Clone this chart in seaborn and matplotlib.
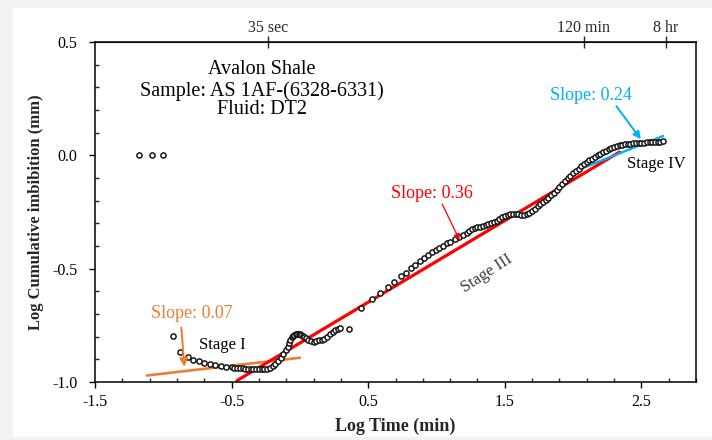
import numpy as np
import pandas as pd
import matplotlib
matplotlib.use("Agg")
import matplotlib.pyplot as plt
from matplotlib.patches import Rectangle
from matplotlib.ticker import MultipleLocator, FixedLocator
import seaborn as sns

# Measured imbibition record: log10 time (min) vs log10 cumulative imbibition (mm)
log_time = [
    -1.18, -1.08, -1.00, -0.93, -0.88, -0.82, -0.78, -0.74, -0.70, -0.66, -0.62, -0.58, -0.54, -0.50,
    -0.48, -0.46, -0.44, -0.42, -0.40, -0.38, -0.36, -0.34, -0.32, -0.30, -0.28, -0.26, -0.24,
    -0.22, -0.20, -0.18, -0.16, -0.14, -0.12, -0.10, -0.09, -0.08, -0.07, -0.06, -0.05, -0.04, -0.03,
    -0.02, -0.01, 0.00, 0.01, 0.02, 0.03, 0.045, 0.06, 0.08, 0.10, 0.12, 0.14, 0.16, 0.18, 0.20,
    0.22, 0.24, 0.26, 0.28, 0.295, 0.357,
    0.448, 0.529, 0.587, 0.643, 0.692, 0.741, 0.778, 0.815, 0.846, 0.878, 0.910, 0.941, 0.969,
    0.993, 1.022, 1.046, 1.076, 1.100, 1.132, 1.163, 1.193,
    1.22, 1.24, 1.26, 1.28, 1.30, 1.32, 1.34, 1.36, 1.38, 1.40, 1.42, 1.44, 1.46, 1.48, 1.50,
    1.52, 1.54, 1.56, 1.58, 1.60, 1.62, 1.64, 1.66, 1.68, 1.70, 1.72, 1.74, 1.76, 1.78, 1.80,
    1.82, 1.84, 1.86, 1.88, 1.90, 1.92, 1.94, 1.96, 1.98, 2.00, 2.02, 2.04, 2.06, 2.08, 2.10,
    2.12, 2.14, 2.16, 2.18, 2.20, 2.22, 2.24, 2.26, 2.28, 2.30, 2.32, 2.34, 2.36, 2.38, 2.40,
    2.42, 2.44, 2.46, 2.48, 2.50, 2.52, 2.54, 2.56, 2.58, 2.60, 2.62, 2.64, 2.66,
]
log_imbibition = [
    0.000, 0.000, 0.000, -0.796, -0.866, -0.890, -0.904, -0.909, -0.916, -0.921, -0.925, -0.928, -0.933, -0.935,
    -0.937, -0.938, -0.939, -0.940, -0.941, -0.942, -0.942, -0.942, -0.943, -0.943, -0.943, -0.942, -0.941,
    -0.938, -0.930, -0.921, -0.908, -0.895, -0.878, -0.857, -0.844, -0.830, -0.815, -0.803, -0.796, -0.791, -0.788,
    -0.787, -0.788, -0.790, -0.794, -0.798, -0.802, -0.807, -0.814, -0.821, -0.822, -0.819, -0.815, -0.814, -0.810, -0.803,
    -0.790, -0.778, -0.770, -0.765, -0.763, -0.766,
    -0.675, -0.634, -0.607, -0.580, -0.558, -0.532, -0.518, -0.498, -0.485, -0.466, -0.454, -0.440, -0.428,
    -0.418, -0.408, -0.399, -0.388, -0.381, -0.370, -0.360, -0.350,
    -0.341, -0.334, -0.327, -0.322, -0.318, -0.314, -0.311, -0.308, -0.304, -0.300, -0.295, -0.289, -0.281, -0.274, -0.268,
    -0.262, -0.258, -0.257, -0.258, -0.260, -0.262, -0.262, -0.260, -0.255, -0.247, -0.236, -0.224, -0.214, -0.205, -0.197,
    -0.188, -0.176, -0.164, -0.152, -0.139, -0.126, -0.114, -0.102, -0.090, -0.080, -0.069, -0.059, -0.049, -0.040, -0.031,
    -0.022, -0.014, -0.007, 0.000, 0.008, 0.015, 0.021, 0.027, 0.032, 0.037, 0.041, 0.044, 0.046, 0.048, 0.050,
    0.052, 0.053, 0.054, 0.055, 0.056, 0.056, 0.057, 0.057, 0.058, 0.059, 0.060, 0.061, 0.063,
]

# Straight-line fits of each imbibition stage (slope, intercept, x-range)
fit_labels = ["Slope: 0.07", "Slope: 0.36", "Slope: 0.24"]
fit_slopes = [0.07, 0.36, 0.24]
fit_intercepts = [-0.893, -0.828, -0.553]
fit_x_start = [-1.12, -0.46, 2.00]
fit_x_end = [0.00, 2.34, 2.66]
fit_colors = ["#ED7D31", "#FF0000", "#00B0F0"]
fit_widths = [1.9, 2.3, 1.7]

# Elapsed-time markers on the upper axis
time_labels = ["35 sec", "120 min", "8 hr"]
time_minutes = [35 / 60, 120, 480]

x_ticks = [-1.5, -0.5, 0.5, 1.5, 2.5]
y_ticks = [-1.0, -0.5, 0.0, 0.5]

sns.set_style("ticks")
plt.rcParams["font.family"] = ["Liberation Serif", "DejaVu Serif"]
plt.rcParams["axes.unicode_minus"] = False

fig = plt.figure(figsize=(7.12, 4.40), dpi=100, facecolor="#f2f2f2")
fig.patches.append(Rectangle((13 / 712, 3 / 440), 1 - 13 / 712, 429 / 440,
                             transform=fig.transFigure, facecolor="white",
                             edgecolor="none", zorder=-10))
ax = fig.add_axes([95 / 712, 58 / 440, 601 / 712, 340 / 440])
ax.set_facecolor("white")

# Fit lines
for s, b, x0, x1, c, w in zip(fit_slopes, fit_intercepts, fit_x_start, fit_x_end, fit_colors, fit_widths):
    fx = np.array([x0, x1])
    sns.lineplot(x=fx, y=s * fx + b, color=c, linewidth=w, ax=ax, zorder=2)

# Measured points
data = pd.DataFrame({"t": log_time, "i": log_imbibition})
sns.scatterplot(data=data, x="t", y="i", marker="o", s=14, facecolor="white",
                edgecolor="#111111", linewidth=1.05, ax=ax, zorder=3)

ax.set_xlim(-1.5, 2.9)
ax.set_ylim(-1.0, 0.5)
ax.xaxis.set_major_locator(FixedLocator(x_ticks))
ax.xaxis.set_minor_locator(MultipleLocator(0.2, offset=0.1))
ax.yaxis.set_major_locator(FixedLocator(y_ticks))
ax.yaxis.set_minor_locator(MultipleLocator(0.1))
ax.set_xticklabels([f"{v:.1f}" for v in x_ticks])
ax.set_yticklabels([f"{v:.1f}" for v in y_ticks])
ax.tick_params(axis="both", which="major", direction="out", length=4.5, width=1.0,
               labelsize=11.5, colors="black")
ax.tick_params(axis="both", which="minor", direction="in", length=3, width=1.0)
ax.tick_params(axis="y", which="major", pad=8)
ax.tick_params(axis="x", which="major", pad=4)
for sp in ax.spines.values():
    sp.set_visible(True)
    sp.set_linewidth(1.1)
    sp.set_color("black")

ax.set_xlabel("Log Time (min)", fontsize=13, fontweight="bold", labelpad=6)
ax.set_ylabel("Log Cumulative imbibition (mm)", fontsize=12, fontweight="bold", labelpad=6)

# Upper axis with elapsed-time markers
top = ax.secondary_xaxis("top")
top.set_xticks(list(np.log10(time_minutes)))
top.set_xticklabels(time_labels)
top.tick_params(direction="inout", length=8, width=1.0, labelsize=11.5, pad=0)
top.xaxis.set_minor_locator(FixedLocator([]))

# Sample description
for txt, yy in zip(["Avalon Shale", "Sample: AS 1AF-(6328-6331)", "Fluid: DT2"], [0.380, 0.285, 0.204]):
    ax.text(-0.28, yy, txt, ha="center", va="center", fontsize=14.5, color="black")

# Slope labels with pointer arrows
label_pos = [(-0.789, -0.700), (0.968, -0.168), (2.134, 0.262)]
arrow_tail = [(-0.868, -0.759), (1.042, -0.215), (2.317, 0.217)]
arrow_head = [(-0.846, -0.933), (1.169, -0.374), (2.496, 0.071)]
arrow_lw = [1.4, 0.9, 1.4]
arrow_head_size = [12, 9, 11]
for lab, pos, tail, head, c, lw, ms in zip(fit_labels, label_pos, arrow_tail, arrow_head,
                                          fit_colors, arrow_lw, arrow_head_size):
    ax.text(pos[0], pos[1], lab, ha="center", va="center", fontsize=13, color=c)
    ax.annotate("", xy=head, xytext=tail,
                arrowprops=dict(arrowstyle="-|>", color=c, lw=lw,
                                mutation_scale=ms, shrinkA=0, shrinkB=0))

ax.text(-0.569, -0.837, "Stage I", ha="center", va="center", fontsize=12, color="black")
ax.text(1.372, -0.521, "Stage III", ha="center", va="center", fontsize=12,
        color="#3a3a3a", rotation=33)
ax.text(2.606, -0.038, "Stage IV", ha="center", va="center", fontsize=12, color="black")

fig.savefig("out.png", dpi=100, facecolor=fig.get_facecolor())
